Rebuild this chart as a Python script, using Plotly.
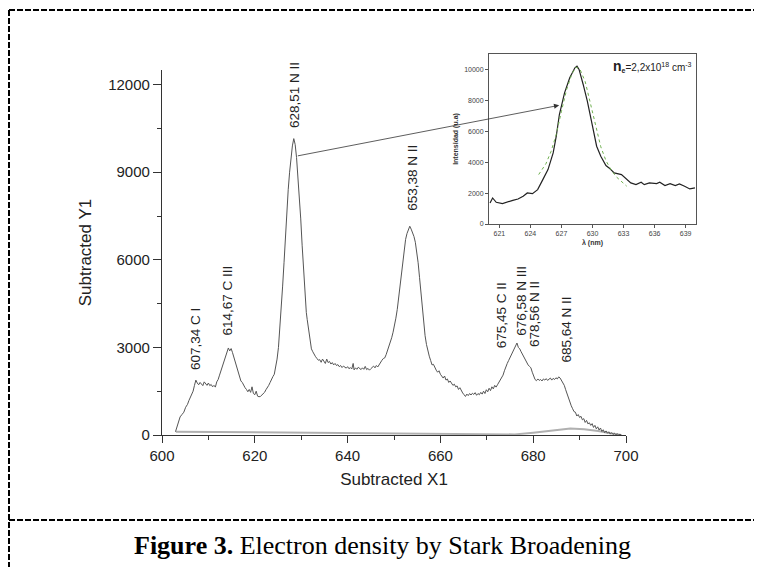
import plotly.graph_objects as go

# ---------------- data ----------------
spec_x = [602.9, 603.4, 603.9, 604.3, 604.7, 605.1, 605.5, 605.8, 606.1, 606.4, 606.7, 607.0, 607.3, 607.6, 607.9,
          608.2, 608.5, 608.8, 609.1, 609.4, 609.7, 610.0, 610.3, 610.6, 610.9, 611.2, 611.5, 611.8, 612.1, 612.4,
          612.8, 613.2, 613.6, 614.0, 614.3, 614.6, 614.9, 615.2, 615.5, 615.8, 616.1, 616.4, 616.7, 617.0, 617.3,
          617.6, 617.9, 618.2, 618.5, 618.8, 619.1, 619.4, 619.7, 620.0, 620.3, 620.6, 620.9, 621.2, 621.5, 621.8,
          622.1, 622.4, 622.7, 623.0, 623.3, 623.6, 623.9, 624.2, 624.5, 624.8, 625.1, 625.4, 625.7, 626.0, 626.3,
          626.6, 626.9, 627.2, 627.5, 627.8, 628.1, 628.4, 628.7, 629.0, 629.3, 629.6, 629.9, 630.2, 630.5, 630.8,
          631.1, 631.3, 631.5, 631.7, 631.9, 632.2, 632.5, 632.8, 633.1, 633.4, 633.7, 634.0, 634.3, 634.6, 634.9,
          635.2, 635.5, 635.8, 636.1, 636.4, 636.7, 637.0, 637.3, 637.6, 637.9, 638.2, 638.5, 638.8, 639.1, 639.4,
          639.7, 640.0, 640.3, 640.6, 640.9, 641.2, 641.4, 641.7, 642.0, 642.3, 642.6, 642.9, 643.2, 643.5, 643.8,
          644.1, 644.4, 644.7, 645.0, 645.3, 645.6, 645.9, 646.2, 646.5, 646.8, 647.1, 647.4, 647.7, 648.0, 648.3,
          648.6, 648.9, 649.2, 649.5, 649.8, 650.1, 650.4, 650.7, 651.0, 651.3, 651.6, 651.9, 652.2, 652.5, 652.8,
          653.1, 653.4, 653.7, 654.0, 654.3, 654.6, 654.9, 655.2, 655.5, 655.8, 656.1, 656.4, 656.7, 657.0, 657.3,
          657.6, 657.9, 658.2, 658.5, 658.8, 659.1, 659.4, 659.7, 660.0, 660.3, 660.6, 660.9, 661.2, 661.5, 661.8,
          662.1, 662.4, 662.7, 663.0, 663.3, 663.6, 663.9, 664.2, 664.5, 664.8, 665.1, 665.4, 665.7, 666.0, 666.3,
          666.6, 666.9, 667.2, 667.5, 667.8, 668.1, 668.4, 668.7, 669.0, 669.3, 669.6, 669.9, 670.2, 670.5, 670.8,
          671.1, 671.4, 671.7, 672.0, 672.3, 672.6, 672.9, 673.2, 673.5, 673.8, 674.1, 674.4, 674.7, 675.0, 675.3,
          675.6, 675.9, 676.2, 676.5, 676.8, 677.1, 677.4, 677.7, 678.0, 678.3, 678.6, 678.9, 679.2, 679.5, 679.8,
          680.1, 680.4, 680.7, 681.0, 681.3, 681.6, 681.9, 682.2, 682.5, 682.8, 683.1, 683.4, 683.7, 684.0, 684.3,
          684.6, 684.9, 685.2, 685.5, 685.8, 686.1, 686.4, 686.7, 687.0, 687.3, 687.6, 687.9, 688.2, 688.5, 688.8,
          689.1, 689.4, 689.7, 690.0, 690.3, 690.6, 690.9, 691.2, 691.5, 691.8, 692.1, 692.4, 692.7, 693.0, 693.3,
          693.6, 693.9, 694.2, 694.5, 694.8, 695.1, 695.4, 695.7, 696.0, 696.3, 696.6, 696.9, 697.2, 697.5, 697.8,
          698.1, 698.4, 698.7, 699.0]
spec_y = [110, 380, 620, 700, 780, 950, 1050, 1180, 1300, 1420, 1500, 1700, 1880, 1780, 1720,
          1800, 1750, 1690, 1820, 1740, 1700, 1780, 1690, 1730, 1650, 1700, 1640, 1820, 1900, 2050,
          2250, 2450, 2650, 2850, 2980, 2880, 2960, 2820, 2650, 2500, 2300, 2120, 1980, 1850, 1800,
          1700, 1620, 1560, 1480, 1560, 1460, 1650, 1420, 1380, 1500, 1330, 1310, 1320, 1360, 1420,
          1460, 1550, 1610, 1700, 1800, 1920, 2000, 2080, 2300, 2600, 3000, 3600, 4300, 5100, 5900,
          6800, 7600, 8400, 9000, 9500, 9900, 10150, 9950, 9500, 8900, 8200, 7400, 6500, 5600, 4800,
          4200, 3950, 3700, 3450, 3200, 2950, 2850, 2750, 2680, 2620, 2560, 2580, 2490, 2600, 2520,
          2450, 2600, 2480, 2520, 2430, 2480, 2400, 2450, 2380, 2410, 2340, 2380, 2310, 2360, 2330,
          2290, 2340, 2270, 2310, 2260, 2450, 2230, 2300, 2250, 2320, 2270, 2240, 2300, 2250, 2350,
          2240, 2280, 2220, 2270, 2310, 2360, 2300, 2380, 2330, 2420, 2460, 2560, 2620, 2640, 2750,
          2880, 3000, 3150, 3330, 3520, 3720, 4000, 4300, 4700, 5100, 5600, 6000, 6400, 6700, 6900,
          7000, 7150, 7050, 6950, 6800, 6600, 6300, 5900, 5400, 4900, 4300, 3800, 3400, 3100, 2850,
          2700, 2550, 2400, 2420, 2300, 2220, 2150, 2200, 2080, 2000, 1950, 2020, 1880, 1920, 1800,
          1850, 1760, 1700, 1740, 1650, 1680, 1560, 1620, 1500, 1440, 1380, 1320, 1400, 1350, 1420,
          1370, 1430, 1390, 1450, 1360, 1420, 1380, 1460, 1400, 1500, 1420, 1550, 1480, 1600, 1520,
          1650, 1580, 1700, 1640, 1720, 1800, 1850, 1950, 2050, 2200, 2350, 2450, 2550, 2650, 2750,
          2850, 2950, 3050, 3150, 3000, 2950, 2850, 2750, 2650, 2550, 2500, 2400, 2350, 2300, 2150,
          2000, 1900, 1860, 1920, 1870, 1900, 1850, 1920, 1880, 1930, 1870, 1900, 1950, 1880, 1940,
          1900, 1960, 1920, 1990, 1950, 1880, 1800, 1700, 1550, 1400, 1250, 1150, 1000, 900, 800,
          780, 650, 700, 600, 640, 520, 560, 430, 500, 380, 420, 330, 390, 260, 330,
          210, 280, 170, 240, 120, 180, 80, 140, 60, 110, 30, 80, 20, 60, 10,
          40, 5, 20, 0]

base_x = [603, 610, 620, 630, 640, 650, 660, 668, 672, 676, 680, 684, 688, 691, 694, 697, 699]
base_y = [115, 105, 90, 75, 60, 45, 25, 10, 5, 20, 80, 160, 220, 200, 140, 50, 0]

inset_x = [620.1, 620.35, 620.7, 621.3, 622.3, 622.8, 623.3, 623.7, 624.2, 624.7, 625.2, 625.7, 626.2, 626.5,
           626.8, 627.3, 627.8, 628.3, 628.5, 628.7, 629.1, 629.5, 630.0, 630.4, 630.8, 631.3, 631.6, 632.1,
           632.8, 633.3, 633.7, 634.2, 634.7, 635.0, 635.5, 636.2, 636.5, 637.0, 637.5, 638.0, 638.4, 638.9,
           639.4, 639.9]
inset_y = [1360, 1685, 1404, 1317, 1533, 1620, 1793, 2009, 1965, 2225, 2873, 3520, 4600, 5680,
           7084, 8488, 9460, 10108, 10216, 10000, 9028, 7948, 6328, 5032, 4384, 3780, 3628, 3304,
           3196, 2873, 2657, 2549, 2700, 2549, 2657, 2613, 2700, 2484, 2613, 2484, 2592, 2440,
           2268, 2333]

fit_x = [624.8, 625.5, 626.0, 626.5, 627.0, 627.5, 628.0, 628.4, 628.8, 629.3, 629.8, 630.3, 630.8, 631.3,
         631.8, 632.3, 632.8, 633.3]
fit_y = [3200, 3900, 4700, 5800, 7300, 8700, 9700, 10150, 10000, 9200, 7800, 6300, 5000, 4100,
         3500, 3050, 2750, 2450]

peak_labels = ["607,34 C I", "614,67 C III", "628,51 N II", "653,38 N II",
               "675,45 C II", "676,58 N III", "678,56 N II", "685,64 N II"]
label_x = [607.2, 614.1, 628.4, 653.8, 673.1, 677.3, 680.4, 687.2]
label_y = [2170, 3350, 10440, 7600, 2910, 3320, 2950, 2400]

x_ticks = [600, 620, 640, 660, 680, 700]
y_ticks = [0, 3000, 6000, 9000, 12000]
inset_xticks = [621, 624, 627, 630, 633, 636, 639]
inset_yticks = [0, 2000, 4000, 6000, 8000, 10000]

# ---------------- layout helpers ----------------
# The page body adds an 8 px offset, so the figure is placed at (8, 8) of the window.
OFF = 8
W, H = 762 - OFF, 567 - OFF
L, R, T, B = 162 - OFF, 762 - 696, 54 - OFF, 567 - 435
PW, PH = W - L - R, H - T - B


def px(xp):
    return (xp - OFF - L) / PW


def py(yp):
    return (H - B - (yp - OFF)) / PH


fig = go.Figure()

fig.add_trace(go.Scatter(x=base_x, y=base_y, mode="lines",
                         line=dict(color="#b0b0b0", width=2), xaxis="x", yaxis="y",
                         hoverinfo="skip"))
fig.add_trace(go.Scatter(x=spec_x, y=spec_y, mode="lines",
                         line=dict(color="#555555", width=1), xaxis="x", yaxis="y"))
fig.add_trace(go.Scatter(x=inset_x, y=inset_y, mode="lines",
                         line=dict(color="#222222", width=1.2), xaxis="x2", yaxis="y2"))
fig.add_trace(go.Scatter(x=fit_x, y=fit_y, mode="lines",
                         line=dict(color="#6fb04f", width=1, dash="dot"), xaxis="x2", yaxis="y2"))

annotations = []
for t, lx, ly in zip(peak_labels, label_x, label_y):
    annotations.append(dict(x=lx, y=ly, xref="x", yref="y", text=t, showarrow=False,
                            textangle=-90, xanchor="center", yanchor="bottom",
                            font=dict(family="Arial, Liberation Sans", size=13.5, color="#222")))

# arrow from main peak to inset
annotations.append(dict(x=685.6, y=11290, ax=628.95, ay=9550, xref="x", yref="y",
                        axref="x", ayref="y", text="", showarrow=True, arrowhead=2,
                        arrowsize=1.3, arrowwidth=0.8, arrowcolor="#333"))

annotations.append(dict(xref="paper", yref="paper", x=px(694), y=py(66), xanchor="right",
                        yanchor="middle", showarrow=False,
                        text="<b><span style='font-size:14px'>n</span><sub>e</sub></b>=2,2x10<sup>18</sup> cm<sup>-3</sup>",
                        font=dict(family="Arial, Liberation Sans", size=10, color="#222")))

annotations.append(dict(xref="paper", yref="paper", x=px(382), y=py(545), xanchor="center",
                        yanchor="middle", showarrow=False,
                        text="<b>Figure 3.</b> Electron density by Stark Broadening",
                        font=dict(family="Liberation Serif, Times New Roman", size=26, color="black")))

dash_line = dict(color="black", width=2, dash="6px,2px")
shapes = [
    dict(type="line", xref="paper", yref="paper", x0=px(9), x1=px(770), y0=py(10), y1=py(10), line=dash_line),
    dict(type="line", xref="paper", yref="paper", x0=px(9), x1=px(9), y0=py(10), y1=py(575), line=dash_line),
    dict(type="line", xref="paper", yref="paper", x0=px(9), x1=px(770), y0=py(520), y1=py(520), line=dash_line),
]

axis_font = dict(family="Arial, Liberation Sans", size=15, color="#222")
fig.update_layout(
    width=W, height=H,
    margin=dict(l=L, r=R, t=T, b=B, autoexpand=False),
    paper_bgcolor="white", plot_bgcolor="white",
    showlegend=False,
    annotations=annotations,
    shapes=shapes,
    xaxis=dict(domain=[0, px(626)], range=[600, 700], anchor="y", automargin=False,
               showline=True, linecolor="#333", linewidth=1.2,
               ticks="outside", ticklen=7, tickwidth=1.2, tickcolor="#333",
               tickvals=x_ticks, ticktext=[str(v) for v in x_ticks], tickfont=axis_font,
               minor=dict(tickvals=[610, 630, 650, 670, 690], ticks="outside", ticklen=4, tickcolor="#333"),
               showgrid=False, zeroline=False,
               title=dict(text="Subtracted X1", font=dict(family="Arial, Liberation Sans", size=17, color="#222"),
                          standoff=10)),
    yaxis=dict(domain=[0, py(70)], range=[0, 12500], anchor="x", automargin=False,
               showline=True, linecolor="#333", linewidth=1.2,
               ticks="outside", ticklen=8, tickwidth=1.2, tickcolor="#333",
               tickvals=y_ticks, ticktext=[str(v) for v in y_ticks], tickfont=axis_font,
               minor=dict(tickvals=[1500, 4500, 7500, 10500], ticks="outside", ticklen=4, tickcolor="#333"),
               showgrid=False, zeroline=False,
               title=dict(text="Subtracted Y1", font=dict(family="Arial, Liberation Sans", size=17, color="#222"),
                          standoff=12)),
    xaxis2=dict(domain=[px(489), 1], range=[620, 640], anchor="y2", automargin=False,
                showline=True, mirror=True, linecolor="#555", linewidth=1,
                ticks="outside", ticklen=3, tickcolor="#555", tickvals=inset_xticks,
                ticktext=[str(v) for v in inset_xticks],
                tickfont=dict(family="Arial, Liberation Sans", size=7, color="#444"),
                showgrid=False, zeroline=False,
                title=dict(text="<b>λ (nm)</b>", font=dict(family="Arial, Liberation Sans", size=7, color="#333"),
                           standoff=3)),
    yaxis2=dict(domain=[py(224), 1], range=[0, 11000], anchor="x2", automargin=False,
                showline=True, mirror=True, linecolor="#555", linewidth=1,
                ticks="outside", ticklen=3, tickcolor="#555", tickvals=inset_yticks,
                ticktext=[str(v) for v in inset_yticks],
                tickfont=dict(family="Arial, Liberation Sans", size=7, color="#444"),
                showgrid=False, zeroline=False,
                title=dict(text="<b>Intensidad (u.a)</b>", font=dict(family="Arial, Liberation Sans", size=7, color="#333"),
                           standoff=4)),
)

fig.write_html("out.html")
